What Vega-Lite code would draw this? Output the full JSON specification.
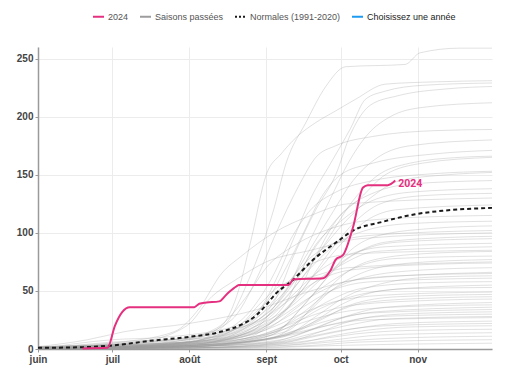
{
  "$schema": "https://vega.github.io/schema/vega-lite/v6.json",
  "width": 454,
  "height": 302,
  "autosize": {"type": "none"},
  "padding": {"left": 38, "top": 47, "right": 38, "bottom": 28},
  "background": "white",
  "config": {
    "font": "Liberation Sans",
    "view": {"stroke": null},
    "axis": {
      "labelFont": "Liberation Sans",
      "labelFontSize": 10,
      "labelFontWeight": "bold",
      "labelColor": "#444",
      "domainColor": "#9a9a9a",
      "domainWidth": 1.5,
      "tickColor": "#9a9a9a",
      "tickSize": 3,
      "gridColor": "#ececec",
      "gridWidth": 1,
      "title": null
    },
    "legend": {
      "symbolOpacity": 1,
      "labelFont": "Liberation Sans",
      "labelFontSize": 9,
      "labelColor": "#555",
      "labelOffset": 3,
      "columnPadding": 7,
      "symbolType": "stroke",
      "symbolSize": 121,
      "symbolStrokeWidth": 2
    }
  },
  "datasets": {
    "past": [
      {"s":1,"d":0,"v":0},{"s":1,"d":40,"v":2},{"s":1,"d":60,"v":5},{"s":1,"d":75,"v":20},{"s":1,"d":85,"v":60},{"s":1,"d":95,"v":120},{"s":1,"d":100,"v":160},{"s":1,"d":108,"v":195},{"s":1,"d":116,"v":226},{"s":1,"d":124,"v":243},{"s":1,"d":148,"v":245},{"s":1,"d":154,"v":255},{"s":1,"d":170,"v":259},{"s":1,"d":183,"v":259},
      {"s":2,"d":0,"v":1},{"s":2,"d":30,"v":3},{"s":2,"d":61,"v":8},{"s":2,"d":74,"v":20},{"s":2,"d":80,"v":45},{"s":2,"d":86,"v":95},{"s":2,"d":92,"v":150},{"s":2,"d":98,"v":168},{"s":2,"d":104,"v":182},{"s":2,"d":112,"v":195},{"s":2,"d":120,"v":205},{"s":2,"d":128,"v":215},{"s":2,"d":140,"v":228},{"s":2,"d":160,"v":230},{"s":2,"d":183,"v":231},
      {"s":3,"d":0,"v":0},{"s":3,"d":45,"v":3},{"s":3,"d":70,"v":10},{"s":3,"d":88,"v":30},{"s":3,"d":96,"v":60},{"s":3,"d":104,"v":100},{"s":3,"d":110,"v":130},{"s":3,"d":118,"v":160},{"s":3,"d":126,"v":190},{"s":3,"d":132,"v":215},{"s":3,"d":140,"v":222},{"s":3,"d":155,"v":227},{"s":3,"d":183,"v":229},
      {"s":4,"d":0,"v":2},{"s":4,"d":61,"v":6},{"s":4,"d":80,"v":15},{"s":4,"d":95,"v":40},{"s":4,"d":103,"v":80},{"s":4,"d":112,"v":120},{"s":4,"d":120,"v":150},{"s":4,"d":126,"v":185},{"s":4,"d":134,"v":210},{"s":4,"d":145,"v":218},{"s":4,"d":165,"v":224},{"s":4,"d":183,"v":226},
      {"s":5,"d":0,"v":0},{"s":5,"d":61,"v":3},{"s":5,"d":85,"v":20},{"s":5,"d":100,"v":50},{"s":5,"d":110,"v":95},{"s":5,"d":118,"v":130},{"s":5,"d":125,"v":160},{"s":5,"d":133,"v":185},{"s":5,"d":142,"v":200},{"s":5,"d":155,"v":208},{"s":5,"d":183,"v":212},
      {"s":6,"d":0,"v":1},{"s":6,"d":30,"v":5},{"s":6,"d":61,"v":10},{"s":6,"d":78,"v":25},{"s":6,"d":88,"v":60},{"s":6,"d":96,"v":100},{"s":6,"d":105,"v":140},{"s":6,"d":112,"v":165},{"s":6,"d":120,"v":175},{"s":6,"d":135,"v":183},{"s":6,"d":160,"v":188},{"s":6,"d":183,"v":189},
      {"s":7,"d":0,"v":0},{"s":7,"d":61,"v":4},{"s":7,"d":86,"v":15},{"s":7,"d":98,"v":45},{"s":7,"d":108,"v":80},{"s":7,"d":118,"v":115},{"s":7,"d":127,"v":145},{"s":7,"d":137,"v":165},{"s":7,"d":150,"v":175},{"s":7,"d":183,"v":180},
      {"s":8,"d":0,"v":0},{"s":8,"d":40,"v":3},{"s":8,"d":70,"v":10},{"s":8,"d":90,"v":35},{"s":8,"d":100,"v":70},{"s":8,"d":107,"v":100},{"s":8,"d":114,"v":130},{"s":8,"d":122,"v":150},{"s":8,"d":135,"v":160},{"s":8,"d":160,"v":168},{"s":8,"d":183,"v":171},
      {"s":9,"d":0,"v":1},{"s":9,"d":50,"v":4},{"s":9,"d":80,"v":12},{"s":9,"d":96,"v":35},{"s":9,"d":106,"v":60},{"s":9,"d":117,"v":95},{"s":9,"d":126,"v":125},{"s":9,"d":136,"v":148},{"s":9,"d":150,"v":160},{"s":9,"d":170,"v":165},{"s":9,"d":183,"v":166},
      {"s":10,"d":0,"v":0},{"s":10,"d":61,"v":5},{"s":10,"d":92,"v":20},{"s":10,"d":104,"v":45},{"s":10,"d":112,"v":80},{"s":10,"d":120,"v":110},{"s":10,"d":130,"v":130},{"s":10,"d":140,"v":150},{"s":10,"d":155,"v":160},{"s":10,"d":183,"v":165},
      {"s":11,"d":0,"v":0},{"s":11,"d":30,"v":2},{"s":11,"d":61,"v":6},{"s":11,"d":82,"v":25},{"s":11,"d":94,"v":60},{"s":11,"d":102,"v":95},{"s":11,"d":110,"v":120},{"s":11,"d":120,"v":135},{"s":11,"d":135,"v":145},{"s":11,"d":160,"v":151},{"s":11,"d":183,"v":153},
      {"s":12,"d":0,"v":2},{"s":12,"d":61,"v":8},{"s":12,"d":90,"v":30},{"s":12,"d":102,"v":55},{"s":12,"d":114,"v":85},{"s":12,"d":124,"v":110},{"s":12,"d":134,"v":130},{"s":12,"d":146,"v":145},{"s":12,"d":165,"v":150},{"s":12,"d":183,"v":152},
      {"s":13,"d":0,"v":0},{"s":13,"d":61,"v":3},{"s":13,"d":88,"v":18},{"s":13,"d":100,"v":40},{"s":13,"d":108,"v":75},{"s":13,"d":116,"v":100},{"s":13,"d":124,"v":120},{"s":13,"d":136,"v":135},{"s":13,"d":150,"v":142},{"s":13,"d":183,"v":145},
      {"s":14,"d":0,"v":1},{"s":14,"d":40,"v":5},{"s":14,"d":75,"v":15},{"s":14,"d":92,"v":30},{"s":14,"d":104,"v":60},{"s":14,"d":112,"v":90},{"s":14,"d":122,"v":110},{"s":14,"d":132,"v":125},{"s":14,"d":150,"v":135},{"s":14,"d":183,"v":138},
      {"s":15,"d":0,"v":0},{"s":15,"d":61,"v":4},{"s":15,"d":95,"v":25},{"s":15,"d":108,"v":55},{"s":15,"d":118,"v":85},{"s":15,"d":128,"v":110},{"s":15,"d":138,"v":125},{"s":15,"d":155,"v":132},{"s":15,"d":183,"v":134},
      {"s":16,"d":0,"v":0},{"s":16,"d":61,"v":3},{"s":16,"d":85,"v":10},{"s":16,"d":100,"v":35},{"s":16,"d":112,"v":65},{"s":16,"d":122,"v":90},{"s":16,"d":132,"v":110},{"s":16,"d":145,"v":120},{"s":16,"d":183,"v":124},
      {"s":17,"d":0,"v":1},{"s":17,"d":30,"v":4},{"s":17,"d":61,"v":10},{"s":17,"d":90,"v":25},{"s":17,"d":100,"v":45},{"s":17,"d":110,"v":70},{"s":17,"d":120,"v":90},{"s":17,"d":132,"v":102},{"s":17,"d":150,"v":108},{"s":17,"d":183,"v":110},
      {"s":18,"d":0,"v":0},{"s":18,"d":61,"v":2},{"s":18,"d":94,"v":12},{"s":18,"d":106,"v":35},{"s":18,"d":116,"v":60},{"s":18,"d":126,"v":85},{"s":18,"d":138,"v":98},{"s":18,"d":160,"v":104},{"s":18,"d":183,"v":106},
      {"s":19,"d":0,"v":0},{"s":19,"d":45,"v":3},{"s":19,"d":75,"v":12},{"s":19,"d":90,"v":30},{"s":19,"d":100,"v":55},{"s":19,"d":108,"v":75},{"s":19,"d":118,"v":90},{"s":19,"d":135,"v":98},{"s":19,"d":183,"v":102},
      {"s":20,"d":0,"v":2},{"s":20,"d":61,"v":6},{"s":20,"d":88,"v":20},{"s":20,"d":104,"v":40},{"s":20,"d":114,"v":60},{"s":20,"d":126,"v":80},{"s":20,"d":140,"v":92},{"s":20,"d":165,"v":96},{"s":20,"d":183,"v":97},
      {"s":21,"d":0,"v":0},{"s":21,"d":61,"v":2},{"s":21,"d":96,"v":15},{"s":21,"d":108,"v":40},{"s":21,"d":118,"v":65},{"s":21,"d":128,"v":82},{"s":21,"d":145,"v":92},{"s":21,"d":183,"v":95},
      {"s":22,"d":0,"v":0},{"s":22,"d":30,"v":3},{"s":22,"d":70,"v":8},{"s":22,"d":92,"v":25},{"s":22,"d":102,"v":45},{"s":22,"d":112,"v":65},{"s":22,"d":124,"v":80},{"s":22,"d":140,"v":88},{"s":22,"d":183,"v":91},
      {"s":23,"d":0,"v":1},{"s":23,"d":61,"v":4},{"s":23,"d":85,"v":12},{"s":23,"d":98,"v":30},{"s":23,"d":110,"v":55},{"s":23,"d":122,"v":72},{"s":23,"d":136,"v":84},{"s":23,"d":183,"v":88},
      {"s":24,"d":0,"v":0},{"s":24,"d":61,"v":3},{"s":24,"d":100,"v":15},{"s":24,"d":112,"v":40},{"s":24,"d":122,"v":62},{"s":24,"d":134,"v":76},{"s":24,"d":155,"v":82},{"s":24,"d":183,"v":84},
      {"s":25,"d":0,"v":0},{"s":25,"d":30,"v":8},{"s":25,"d":50,"v":10},{"s":25,"d":80,"v":20},{"s":25,"d":92,"v":40},{"s":25,"d":102,"v":60},{"s":25,"d":112,"v":75},{"s":25,"d":128,"v":82},{"s":25,"d":183,"v":85},
      {"s":26,"d":0,"v":1},{"s":26,"d":61,"v":5},{"s":26,"d":90,"v":15},{"s":26,"d":104,"v":35},{"s":26,"d":116,"v":55},{"s":26,"d":128,"v":70},{"s":26,"d":145,"v":78},{"s":26,"d":183,"v":80},
      {"s":27,"d":0,"v":0},{"s":27,"d":61,"v":2},{"s":27,"d":95,"v":10},{"s":27,"d":108,"v":30},{"s":27,"d":118,"v":50},{"s":27,"d":130,"v":65},{"s":27,"d":150,"v":74},{"s":27,"d":183,"v":77},
      {"s":28,"d":0,"v":0},{"s":28,"d":30,"v":6},{"s":28,"d":70,"v":10},{"s":28,"d":88,"v":22},{"s":28,"d":100,"v":40},{"s":28,"d":112,"v":58},{"s":28,"d":126,"v":68},{"s":28,"d":160,"v":73},{"s":28,"d":183,"v":74},
      {"s":29,"d":0,"v":0},{"s":29,"d":61,"v":3},{"s":29,"d":92,"v":12},{"s":29,"d":106,"v":30},{"s":29,"d":118,"v":50},{"s":29,"d":132,"v":62},{"s":29,"d":155,"v":68},{"s":29,"d":183,"v":70},
      {"s":30,"d":0,"v":2},{"s":30,"d":61,"v":6},{"s":30,"d":86,"v":14},{"s":30,"d":98,"v":28},{"s":30,"d":110,"v":45},{"s":30,"d":124,"v":58},{"s":30,"d":145,"v":63},{"s":30,"d":183,"v":65},
      {"s":31,"d":0,"v":0},{"s":31,"d":61,"v":2},{"s":31,"d":98,"v":10},{"s":31,"d":112,"v":28},{"s":31,"d":124,"v":45},{"s":31,"d":138,"v":56},{"s":31,"d":160,"v":62},{"s":31,"d":183,"v":63},
      {"s":32,"d":0,"v":0},{"s":32,"d":30,"v":2},{"s":32,"d":75,"v":8},{"s":32,"d":94,"v":20},{"s":32,"d":106,"v":35},{"s":32,"d":118,"v":50},{"s":32,"d":135,"v":58},{"s":32,"d":183,"v":61},
      {"s":33,"d":0,"v":1},{"s":33,"d":61,"v":4},{"s":33,"d":90,"v":12},{"s":33,"d":104,"v":25},{"s":33,"d":116,"v":40},{"s":33,"d":130,"v":52},{"s":33,"d":155,"v":57},{"s":33,"d":183,"v":58},
      {"s":34,"d":0,"v":0},{"s":34,"d":61,"v":3},{"s":34,"d":96,"v":10},{"s":34,"d":110,"v":22},{"s":34,"d":122,"v":38},{"s":34,"d":138,"v":50},{"s":34,"d":165,"v":54},{"s":34,"d":183,"v":55},
      {"s":35,"d":0,"v":0},{"s":35,"d":61,"v":2},{"s":35,"d":88,"v":8},{"s":35,"d":102,"v":20},{"s":35,"d":114,"v":35},{"s":35,"d":128,"v":46},{"s":35,"d":150,"v":52},{"s":35,"d":183,"v":53},
      {"s":36,"d":0,"v":0},{"s":36,"d":50,"v":3},{"s":36,"d":82,"v":10},{"s":36,"d":96,"v":20},{"s":36,"d":108,"v":32},{"s":36,"d":122,"v":42},{"s":36,"d":145,"v":47},{"s":36,"d":183,"v":49},
      {"s":37,"d":0,"v":1},{"s":37,"d":61,"v":3},{"s":37,"d":100,"v":12},{"s":37,"d":114,"v":25},{"s":37,"d":126,"v":38},{"s":37,"d":145,"v":45},{"s":37,"d":183,"v":47},
      {"s":38,"d":0,"v":0},{"s":38,"d":61,"v":2},{"s":38,"d":92,"v":8},{"s":38,"d":106,"v":18},{"s":38,"d":118,"v":30},{"s":38,"d":132,"v":40},{"s":38,"d":160,"v":44},{"s":38,"d":183,"v":45},
      {"s":39,"d":0,"v":0},{"s":39,"d":61,"v":4},{"s":39,"d":86,"v":10},{"s":39,"d":100,"v":20},{"s":39,"d":112,"v":30},{"s":39,"d":128,"v":38},{"s":39,"d":160,"v":42},{"s":39,"d":183,"v":43},
      {"s":40,"d":0,"v":0},{"s":40,"d":61,"v":2},{"s":40,"d":98,"v":8},{"s":40,"d":112,"v":18},{"s":40,"d":124,"v":28},{"s":40,"d":140,"v":36},{"s":40,"d":183,"v":40},
      {"s":41,"d":0,"v":1},{"s":41,"d":45,"v":3},{"s":41,"d":80,"v":8},{"s":41,"d":96,"v":15},{"s":41,"d":110,"v":25},{"s":41,"d":126,"v":33},{"s":41,"d":155,"v":37},{"s":41,"d":183,"v":38},
      {"s":42,"d":0,"v":0},{"s":42,"d":61,"v":2},{"s":42,"d":94,"v":6},{"s":42,"d":108,"v":15},{"s":42,"d":120,"v":25},{"s":42,"d":136,"v":32},{"s":42,"d":183,"v":36},
      {"s":43,"d":0,"v":0},{"s":43,"d":61,"v":3},{"s":43,"d":90,"v":8},{"s":43,"d":104,"v":16},{"s":43,"d":118,"v":25},{"s":43,"d":134,"v":31},{"s":43,"d":183,"v":34},
      {"s":44,"d":0,"v":0},{"s":44,"d":61,"v":1},{"s":44,"d":100,"v":6},{"s":44,"d":114,"v":15},{"s":44,"d":126,"v":24},{"s":44,"d":146,"v":30},{"s":44,"d":183,"v":32},
      {"s":45,"d":0,"v":1},{"s":45,"d":61,"v":3},{"s":45,"d":92,"v":8},{"s":45,"d":106,"v":14},{"s":45,"d":120,"v":22},{"s":45,"d":138,"v":28},{"s":45,"d":183,"v":30},
      {"s":46,"d":0,"v":0},{"s":46,"d":61,"v":2},{"s":46,"d":96,"v":6},{"s":46,"d":110,"v":13},{"s":46,"d":124,"v":20},{"s":46,"d":142,"v":26},{"s":46,"d":183,"v":28},
      {"s":47,"d":0,"v":0},{"s":47,"d":45,"v":2},{"s":47,"d":84,"v":6},{"s":47,"d":100,"v":12},{"s":47,"d":114,"v":19},{"s":47,"d":132,"v":25},{"s":47,"d":183,"v":27},
      {"s":48,"d":0,"v":0},{"s":48,"d":61,"v":1},{"s":48,"d":98,"v":5},{"s":48,"d":112,"v":11},{"s":48,"d":126,"v":17},{"s":48,"d":145,"v":22},{"s":48,"d":183,"v":24},
      {"s":49,"d":0,"v":0},{"s":49,"d":61,"v":2},{"s":49,"d":94,"v":5},{"s":49,"d":108,"v":10},{"s":49,"d":122,"v":16},{"s":49,"d":140,"v":20},{"s":49,"d":183,"v":22},
      {"s":50,"d":0,"v":0},{"s":50,"d":61,"v":1},{"s":50,"d":104,"v":5},{"s":50,"d":118,"v":11},{"s":50,"d":132,"v":16},{"s":50,"d":150,"v":19},{"s":50,"d":183,"v":20},
      {"s":51,"d":0,"v":0},{"s":51,"d":61,"v":1},{"s":51,"d":96,"v":4},{"s":51,"d":112,"v":8},{"s":51,"d":128,"v":13},{"s":51,"d":150,"v":16},{"s":51,"d":183,"v":17},
      {"s":52,"d":0,"v":0},{"s":52,"d":70,"v":1},{"s":52,"d":104,"v":4},{"s":52,"d":120,"v":8},{"s":52,"d":138,"v":12},{"s":52,"d":183,"v":14},
      {"s":53,"d":0,"v":0},{"s":53,"d":61,"v":1},{"s":53,"d":100,"v":3},{"s":53,"d":118,"v":6},{"s":53,"d":140,"v":9},{"s":53,"d":183,"v":11},
      {"s":54,"d":0,"v":0},{"s":54,"d":80,"v":1},{"s":54,"d":110,"v":3},{"s":54,"d":130,"v":6},{"s":54,"d":183,"v":8},
      {"s":55,"d":0,"v":0},{"s":55,"d":90,"v":1},{"s":55,"d":120,"v":3},{"s":55,"d":183,"v":5},
      {"s":56,"d":0,"v":0},{"s":56,"d":30,"v":5},{"s":56,"d":55,"v":15},{"s":56,"d":65,"v":35},{"s":56,"d":74,"v":65},{"s":56,"d":82,"v":80},{"s":56,"d":95,"v":100},{"s":56,"d":110,"v":115},{"s":56,"d":125,"v":125},{"s":56,"d":183,"v":130},
      {"s":57,"d":0,"v":1},{"s":57,"d":40,"v":6},{"s":57,"d":60,"v":20},{"s":57,"d":70,"v":45},{"s":57,"d":80,"v":60},{"s":57,"d":92,"v":75},{"s":57,"d":110,"v":85},{"s":57,"d":130,"v":95},{"s":57,"d":183,"v":100},
      {"s":58,"d":0,"v":2},{"s":58,"d":20,"v":8},{"s":58,"d":35,"v":15},{"s":58,"d":61,"v":22},{"s":58,"d":90,"v":35},{"s":58,"d":110,"v":50},{"s":58,"d":130,"v":60},{"s":58,"d":183,"v":66},
      {"s":59,"d":0,"v":0},{"s":59,"d":50,"v":5},{"s":59,"d":72,"v":18},{"s":59,"d":84,"v":45},{"s":59,"d":92,"v":70},{"s":59,"d":104,"v":90},{"s":59,"d":120,"v":105},{"s":59,"d":140,"v":112},{"s":59,"d":183,"v":115},
      {"s":60,"d":0,"v":1},{"s":60,"d":61,"v":5},{"s":60,"d":80,"v":18},{"s":60,"d":90,"v":40},{"s":60,"d":98,"v":55},{"s":60,"d":110,"v":62},{"s":60,"d":125,"v":70},{"s":60,"d":183,"v":75}
    ],
    "norm": [
      {"d":0,"v":1},{"d":17,"v":1.5},{"d":30,"v":3},{"d":45,"v":7},{"d":61,"v":10.5},{"d":74,"v":15},{"d":82,"v":21},{"d":88,"v":29},{"d":92,"v":38},{"d":96,"v":48},{"d":102,"v":58},{"d":111,"v":77},{"d":121,"v":93},{"d":127,"v":102},{"d":138,"v":109},{"d":152,"v":116},{"d":163,"v":119},{"d":183,"v":121.5}
    ],
    "y2024": [
      {"d":18,"v":0.5},{"d":28,"v":1},{"d":31,"v":20},{"d":34,"v":32},{"d":37,"v":36},{"d":63,"v":36},{"d":65,"v":39},{"d":68,"v":40},{"d":73,"v":41},{"d":76,"v":47},{"d":80,"v":54},{"d":81,"v":55},{"d":101,"v":55},{"d":103,"v":60},{"d":115,"v":61},{"d":118,"v":68},{"d":120,"v":77},{"d":123,"v":81},{"d":127,"v":105},{"d":131,"v":139},{"d":133,"v":141},{"d":141,"v":141},{"d":144,"v":145}
    ]
  },
  "encoding": {
    "x": {
      "field": "d", "type": "quantitative",
      "scale": {"domain": [0, 183], "nice": false, "zero": false},
      "axis": {
        "values": [0, 30, 61, 92, 122, 153],
        "labelExpr": "datum.value==0?'juin':datum.value==30?'juil':datum.value==61?'août':datum.value==92?'sept':datum.value==122?'oct':'nov'",
        "labelPadding": 2,
        "labelFlush": false
      }
    },
    "y": {
      "field": "v", "type": "quantitative",
      "scale": {"domain": [0, 260], "nice": false},
      "axis": {"values": [0, 50, 100, 150, 200, 250], "labelPadding": 2}
    }
  },
  "layer": [
    {
      "data": {"name": "past"},
      "mark": {"type": "line", "interpolate": "monotone", "strokeWidth": 1, "opacity": 0.3},
      "encoding": {
        "detail": {"field": "s", "type": "nominal"},
        "color": {
          "datum": "Saisons passées", "type": "nominal",
          "scale": {
            "domain": ["2024", "Saisons passées", "Normales (1991-2020)", "Choisissez une année"],
            "range": ["#e5307f", "#9c9c9c", "#1a1a1a", "#1d9bf0"]
          },
          "legend": {
            "title": null,
            "orient": "none",
            "legendX": 54,
            "legendY": -37,
            "direction": "horizontal",
            "encode": {
              "symbols": {"update": {"strokeDash": {"signal": "datum.value=='Normales (1991-2020)'?[2,2]:[]"}}},
              "labels": {"update": {"fill": {"signal": "datum.value=='Choisissez une année'?'#222':'#555'"}}}
            }
          }
        }
      }
    },
    {
      "data": {"name": "norm"},
      "mark": {"type": "line", "interpolate": "monotone", "strokeWidth": 2, "strokeDash": [4, 3]},
      "encoding": {"color": {"datum": "Normales (1991-2020)", "type": "nominal"}}
    },
    {
      "data": {"name": "y2024"},
      "mark": {"type": "line", "interpolate": "monotone", "strokeWidth": 2},
      "encoding": {"color": {"datum": "2024", "type": "nominal"}}
    },
    {
      "data": {"name": "y2024"},
      "transform": [{"filter": "datum.d == 144"}],
      "mark": {"type": "text", "align": "left", "baseline": "middle", "dx": 3, "dy": 3, "font": "Roboto", "fontSize": 10.5, "fontWeight": "bold", "color": "#e5307f"},
      "encoding": {"text": {"value": "2024"}}
    }
  ]
}
